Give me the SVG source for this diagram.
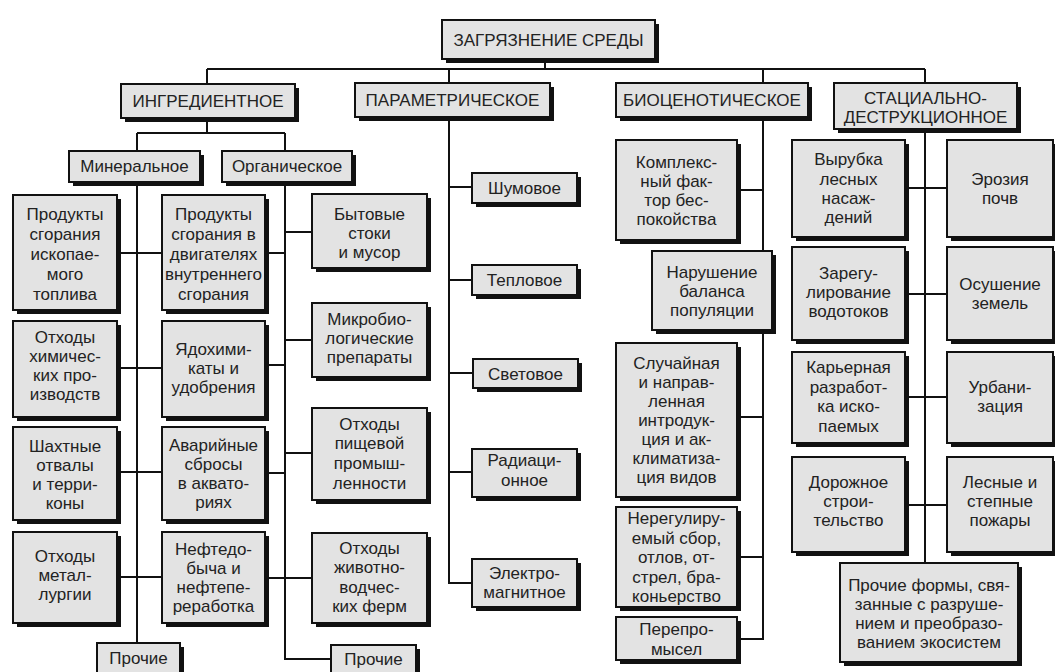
<svg xmlns="http://www.w3.org/2000/svg" width="1055" height="672" viewBox="0 0 1055 672">
<style>
.sh{fill:#111}
.bx{fill:#e3e3e3;stroke:#111;stroke-width:2}
.t{font-family:"Liberation Sans",Arial,sans-serif;font-size:17px;fill:#222;text-anchor:middle}
.c{fill:none;stroke:#111;stroke-width:2}
</style>
<rect width="1055" height="672" fill="#ffffff"/>
<g id="connectors" class="c">
<path d="M545 59V69M207 69H925M207 69V84M449 69V83M763 69V83M925 69V83"/>
<path d="M207 118V133M137 133H285M137 133V151M285 133V151"/>
<path d="M137 182V643M117 253H162M117 368H162M117 472H162M117 577H162"/>
<path d="M285 182V659H331M265 253H285M265 365H285M265 473H285M265 578H285M285 232H312M285 340H312M285 453H312M285 578H312"/>
<path d="M449 117V583H472M449 187H472M449 280H472M449 373H472M449 472H472"/>
<path d="M763 117V639H737M737 190H763M737 417H763M737 557H763"/>
<path d="M925 129V563M905 188H947M905 294H947M905 397H947M905 505H947"/>
</g>
<g id="n-root"><rect class="sh" x="446" y="24" width="213" height="39"/><rect class="bx" x="442" y="20" width="213" height="39"/><text class="t" x="548.5" y="45.5">ЗАГРЯЗНЕНИЕ СРЕДЫ</text></g>
<g id="n-ingr"><rect class="sh" x="125" y="88" width="174" height="34"/><rect class="bx" x="121" y="84" width="174" height="34"/><text class="t" x="208" y="107">ИНГРЕДИЕНТНОЕ</text></g>
<g id="n-param"><rect class="sh" x="359" y="87" width="195" height="34"/><rect class="bx" x="355" y="83" width="195" height="34"/><text class="t" x="452.5" y="106">ПАРАМЕТРИЧЕСКОЕ</text></g>
<g id="n-bio"><rect class="sh" x="620" y="87" width="192" height="34"/><rect class="bx" x="616" y="83" width="192" height="34"/><text class="t" x="712" y="106">БИОЦЕНОТИЧЕСКОЕ</text></g>
<g id="n-stat"><rect class="sh" x="838" y="87" width="183" height="46"/><rect class="bx" x="834" y="83" width="183" height="46"/><text class="t"><tspan x="925.5" y="104">СТАЦИАЛЬНО-</tspan><tspan x="925.5" y="123">ДЕСТРУКЦИОННОЕ</tspan></text></g>
<g id="n-min"><rect class="sh" x="73" y="155" width="131" height="31"/><rect class="bx" x="69" y="151" width="131" height="31"/><text class="t" x="134.5" y="172">Минеральное</text></g>
<g id="n-org"><rect class="sh" x="226" y="155" width="130" height="31"/><rect class="bx" x="222" y="151" width="130" height="31"/><text class="t" x="287" y="172">Органическое</text></g>
<g id="n-m1"><rect class="sh" x="17" y="199" width="104" height="115"/><rect class="bx" x="13" y="195" width="104" height="115"/><text class="t"><tspan x="65" y="220">Продукты</tspan><tspan x="65" y="240">сгорания</tspan><tspan x="65" y="260">ископае-</tspan><tspan x="65" y="280">мого</tspan><tspan x="65" y="300">топлива</tspan></text></g>
<g id="n-m2"><rect class="sh" x="17" y="325" width="104" height="96"/><rect class="bx" x="13" y="321" width="104" height="96"/><text class="t"><tspan x="65" y="343">Отходы</tspan><tspan x="65" y="362">химичес-</tspan><tspan x="65" y="381">ких про-</tspan><tspan x="65" y="400">изводств</tspan></text></g>
<g id="n-m3"><rect class="sh" x="17" y="431" width="104" height="93"/><rect class="bx" x="13" y="427" width="104" height="93"/><text class="t"><tspan x="65" y="452">Шахтные</tspan><tspan x="65" y="471">отвалы</tspan><tspan x="65" y="490">и терри-</tspan><tspan x="65" y="509">коны</tspan></text></g>
<g id="n-m4"><rect class="sh" x="17" y="536" width="104" height="91"/><rect class="bx" x="13" y="532" width="104" height="91"/><text class="t"><tspan x="65" y="562">Отходы</tspan><tspan x="65" y="581">метал-</tspan><tspan x="65" y="600">лургии</tspan></text></g>
<g id="n-m5"><rect class="sh" x="101" y="647" width="83" height="30"/><rect class="bx" x="97" y="643" width="83" height="30"/><text class="t" x="138.5" y="664">Прочие</text></g>
<g id="n-o1"><rect class="sh" x="166" y="199" width="103" height="115"/><rect class="bx" x="162" y="195" width="103" height="115"/><text class="t"><tspan x="213.5" y="220">Продукты</tspan><tspan x="213.5" y="240">сгорания в</tspan><tspan x="213.5" y="260">двигателях</tspan><tspan x="213.5" y="280">внутреннего</tspan><tspan x="213.5" y="300">сгорания</tspan></text></g>
<g id="n-o2"><rect class="sh" x="166" y="325" width="103" height="96"/><rect class="bx" x="162" y="321" width="103" height="96"/><text class="t"><tspan x="213.5" y="355">Ядохими-</tspan><tspan x="213.5" y="374">каты и</tspan><tspan x="213.5" y="393">удобрения</tspan></text></g>
<g id="n-o3"><rect class="sh" x="166" y="431" width="103" height="93"/><rect class="bx" x="162" y="427" width="103" height="93"/><text class="t"><tspan x="213.5" y="451">Аварийные</tspan><tspan x="213.5" y="470">сбросы</tspan><tspan x="213.5" y="489">в аквато-</tspan><tspan x="213.5" y="508">риях</tspan></text></g>
<g id="n-o4"><rect class="sh" x="166" y="536" width="103" height="91"/><rect class="bx" x="162" y="532" width="103" height="91"/><text class="t"><tspan x="213.5" y="555">Нефтедо-</tspan><tspan x="213.5" y="574">быча и</tspan><tspan x="213.5" y="593">нефтепе-</tspan><tspan x="213.5" y="612">реработка</tspan></text></g>
<g id="n-r1"><rect class="sh" x="316" y="198" width="115" height="74"/><rect class="bx" x="312" y="194" width="115" height="74"/><text class="t"><tspan x="369.5" y="220">Бытовые</tspan><tspan x="369.5" y="239">стоки</tspan><tspan x="369.5" y="258">и мусор</tspan></text></g>
<g id="n-r2"><rect class="sh" x="316" y="307" width="115" height="74"/><rect class="bx" x="312" y="303" width="115" height="74"/><text class="t"><tspan x="369.5" y="325">Микробио-</tspan><tspan x="369.5" y="344">логические</tspan><tspan x="369.5" y="363">препараты</tspan></text></g>
<g id="n-r3"><rect class="sh" x="316" y="412" width="115" height="92"/><rect class="bx" x="312" y="408" width="115" height="92"/><text class="t"><tspan x="369.5" y="430">Отходы</tspan><tspan x="369.5" y="449">пищевой</tspan><tspan x="369.5" y="469">промыш-</tspan><tspan x="369.5" y="489">ленности</tspan></text></g>
<g id="n-r4"><rect class="sh" x="316" y="537" width="115" height="90"/><rect class="bx" x="312" y="533" width="115" height="90"/><text class="t"><tspan x="369.5" y="554">Отходы</tspan><tspan x="369.5" y="573">животно-</tspan><tspan x="369.5" y="593">водчес-</tspan><tspan x="369.5" y="612">ких ферм</tspan></text></g>
<g id="n-r5"><rect class="sh" x="335" y="649" width="85" height="30"/><rect class="bx" x="331" y="645" width="85" height="30"/><text class="t" x="373.5" y="665">Прочие</text></g>
<g id="n-p1"><rect class="sh" x="476" y="177" width="105" height="30"/><rect class="bx" x="472" y="173" width="105" height="30"/><text class="t" x="524.5" y="194">Шумовое</text></g>
<g id="n-p2"><rect class="sh" x="476" y="269" width="105" height="30"/><rect class="bx" x="472" y="265" width="105" height="30"/><text class="t" x="524.5" y="286">Тепловое</text></g>
<g id="n-p3"><rect class="sh" x="477" y="363" width="105" height="29"/><rect class="bx" x="473" y="359" width="105" height="29"/><text class="t" x="525.5" y="380">Световое</text></g>
<g id="n-p4"><rect class="sh" x="476" y="453" width="105" height="48"/><rect class="bx" x="472" y="449" width="105" height="48"/><text class="t"><tspan x="524.5" y="466">Радиаци-</tspan><tspan x="524.5" y="486">онное</tspan></text></g>
<g id="n-p5"><rect class="sh" x="476" y="563" width="105" height="48"/><rect class="bx" x="472" y="559" width="105" height="48"/><text class="t"><tspan x="524.5" y="579">Электро-</tspan><tspan x="524.5" y="598">магнитное</tspan></text></g>
<g id="n-b1"><rect class="sh" x="620" y="144" width="121" height="100"/><rect class="bx" x="616" y="140" width="121" height="100"/><text class="t"><tspan x="676.5" y="168">Комплекс-</tspan><tspan x="676.5" y="187">ный фак-</tspan><tspan x="676.5" y="206">тор бес-</tspan><tspan x="676.5" y="225">покойства</tspan></text></g>
<g id="n-b2"><rect class="sh" x="656" y="255" width="120" height="79"/><rect class="bx" x="652" y="251" width="120" height="79"/><text class="t"><tspan x="712" y="278">Нарушение</tspan><tspan x="712" y="297">баланса</tspan><tspan x="712" y="316">популяции</tspan></text></g>
<g id="n-b3"><rect class="sh" x="620" y="347" width="121" height="154"/><rect class="bx" x="616" y="343" width="121" height="154"/><text class="t"><tspan x="676.5" y="369">Случайная</tspan><tspan x="676.5" y="388">и направ-</tspan><tspan x="676.5" y="407">ленная</tspan><tspan x="676.5" y="426">интродук-</tspan><tspan x="676.5" y="445">ция и ак-</tspan><tspan x="676.5" y="464">климатиза-</tspan><tspan x="676.5" y="483">ция видов</tspan></text></g>
<g id="n-b4"><rect class="sh" x="620" y="511" width="121" height="100"/><rect class="bx" x="616" y="507" width="121" height="100"/><text class="t"><tspan x="676.5" y="524">Нерегулиру-</tspan><tspan x="676.5" y="543.5">емый сбор,</tspan><tspan x="676.5" y="563">отлов, от-</tspan><tspan x="676.5" y="582.5">стрел, бра-</tspan><tspan x="676.5" y="602">коньерство</tspan></text></g>
<g id="n-b5"><rect class="sh" x="620" y="621" width="121" height="43"/><rect class="bx" x="616" y="617" width="121" height="43"/><text class="t"><tspan x="676.5" y="635">Перепро-</tspan><tspan x="676.5" y="655">мысел</tspan></text></g>
<g id="n-s1"><rect class="sh" x="796" y="144" width="113" height="97"/><rect class="bx" x="792" y="140" width="113" height="97"/><text class="t"><tspan x="848.5" y="165">Вырубка</tspan><tspan x="848.5" y="184.5">лесных</tspan><tspan x="848.5" y="204">насаж-</tspan><tspan x="848.5" y="223">дений</tspan></text></g>
<g id="n-s2"><rect class="sh" x="951" y="144" width="106" height="97"/><rect class="bx" x="947" y="140" width="106" height="97"/><text class="t"><tspan x="1000" y="184.5">Эрозия</tspan><tspan x="1000" y="203.5">почв</tspan></text></g>
<g id="n-s3"><rect class="sh" x="796" y="251" width="113" height="93"/><rect class="bx" x="792" y="247" width="113" height="93"/><text class="t"><tspan x="848.5" y="279">Зарегу-</tspan><tspan x="848.5" y="298">лирование</tspan><tspan x="848.5" y="317">водотоков</tspan></text></g>
<g id="n-s4"><rect class="sh" x="951" y="251" width="106" height="93"/><rect class="bx" x="947" y="247" width="106" height="93"/><text class="t"><tspan x="1000" y="289.5">Осушение</tspan><tspan x="1000" y="308.5">земель</tspan></text></g>
<g id="n-s5"><rect class="sh" x="796" y="356" width="113" height="91"/><rect class="bx" x="792" y="352" width="113" height="91"/><text class="t"><tspan x="848.5" y="373">Карьерная</tspan><tspan x="848.5" y="392.5">разработ-</tspan><tspan x="848.5" y="412">ка иско-</tspan><tspan x="848.5" y="431.5">паемых</tspan></text></g>
<g id="n-s6"><rect class="sh" x="951" y="356" width="106" height="91"/><rect class="bx" x="947" y="352" width="106" height="91"/><text class="t"><tspan x="1000" y="393">Урбани-</tspan><tspan x="1000" y="412">зация</tspan></text></g>
<g id="n-s7"><rect class="sh" x="796" y="461" width="113" height="95"/><rect class="bx" x="792" y="457" width="113" height="95"/><text class="t"><tspan x="848.5" y="488">Дорожное</tspan><tspan x="848.5" y="507">строи-</tspan><tspan x="848.5" y="526">тельство</tspan></text></g>
<g id="n-s8"><rect class="sh" x="951" y="461" width="106" height="95"/><rect class="bx" x="947" y="457" width="106" height="95"/><text class="t"><tspan x="1000" y="488">Лесные и</tspan><tspan x="1000" y="507">степные</tspan><tspan x="1000" y="526">пожары</tspan></text></g>
<g id="n-s9"><rect class="sh" x="844" y="567" width="178" height="99"/><rect class="bx" x="840" y="563" width="178" height="99"/><text class="t"><tspan x="929" y="591">Прочие формы, свя-</tspan><tspan x="929" y="610">занные с разруше-</tspan><tspan x="929" y="629">нием и преобразо-</tspan><tspan x="929" y="648">ванием экосистем</tspan></text></g>
</svg>
